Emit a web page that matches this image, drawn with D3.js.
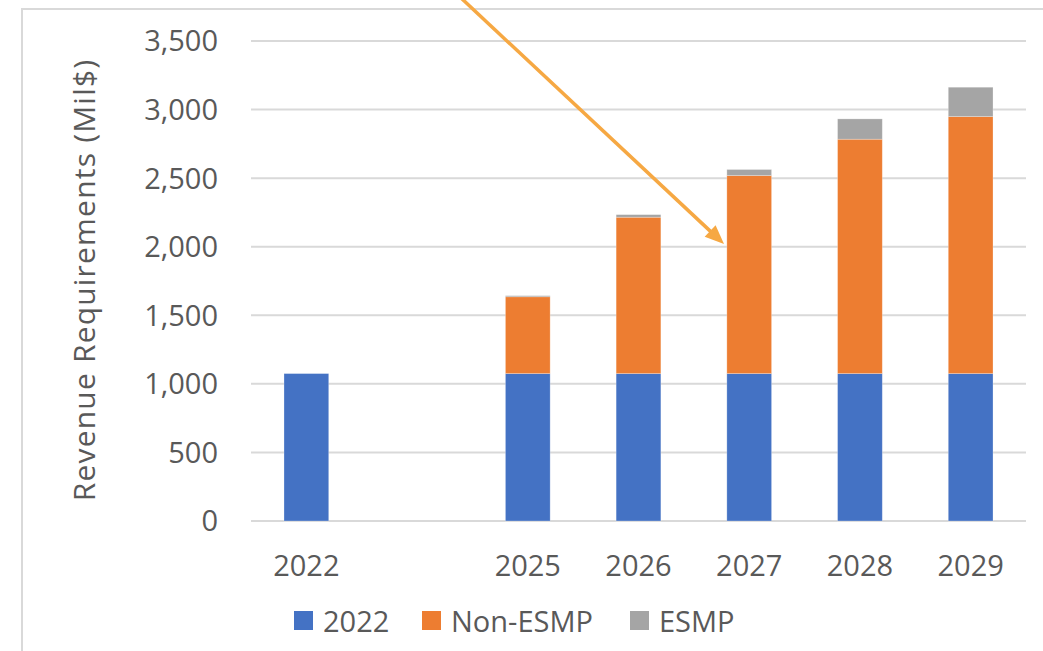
<!DOCTYPE html>
<html>
<head>
<meta charset="utf-8">
<script src="https://cdn.jsdelivr.net/npm/d3@7"></script>
<style>
  html, body { margin: 0; padding: 0; background: #fff; }
  svg { display: block; }
  text { font-family: "Open Sans", "Noto Sans", sans-serif; fill: #595959; }
</style>
</head>
<body>
<svg id="chart" width="1043" height="651"></svg>
<script>
// Revenue requirement build-up by year (Mil$)
const categories = ["2022", "", "2025", "2026", "2027", "2028", "2029"];
const base2022   = [1075, null, 1075, 1075, 1075, 1075, 1075];
const nonEsmp    = [null, null, 560, 1140, 1444, 1709, 1874];
const esmp       = [null, null, 8, 19, 44, 148, 214];
const yTicks     = [0, 500, 1000, 1500, 2000, 2500, 3000, 3500];
const seriesNames  = ["2022", "Non-ESMP", "ESMP"];
const seriesColors = ["#4472C4", "#ED7D31", "#A5A5A5"];

const svg = d3.select("#chart");

// outer chart frame (top and left edges visible)
svg.append("line").attr("x1", 21).attr("x2", 1043).attr("y1", 9).attr("y2", 9)
  .attr("stroke", "#d9d9d9").attr("stroke-width", 2);
svg.append("line").attr("x1", 22).attr("x2", 22).attr("y1", 9).attr("y2", 651)
  .attr("stroke", "#d9d9d9").attr("stroke-width", 2);

const plot = { left: 251, right: 1026, top: 41, bottom: 521 };

const x = d3.scaleBand()
  .domain(d3.range(categories.length))
  .range([plot.left, plot.right])
  .paddingInner(0.596)
  .paddingOuter(0.298);

const y = d3.scaleLinear().domain([0, 3500]).range([plot.bottom, plot.top]);

// horizontal gridlines
svg.append("g").selectAll("line").data(yTicks).join("line")
  .attr("x1", plot.left).attr("x2", plot.right)
  .attr("y1", d => y(d)).attr("y2", d => y(d))
  .attr("stroke", "#d9d9d9").attr("stroke-width", 2);

// y axis tick labels
const yAxis = d3.axisLeft(y).tickValues(yTicks).tickFormat(d3.format(",")).tickSize(0).tickPadding(0);
const gy = svg.append("g").attr("transform", "translate(218,0)").call(yAxis);
gy.select(".domain").remove();
gy.selectAll("text").attr("font-size", 29).attr("fill", "#595959")
  .attr("font-family", "Open Sans").attr("dy", "0.34em");

// x axis labels
const xAxis = d3.axisBottom(x).tickFormat(i => categories[i]).tickSize(0).tickPadding(0);
const gx = svg.append("g").attr("transform", "translate(0,576)").call(xAxis);
gx.select(".domain").remove();
gx.selectAll("text").attr("font-size", 29).attr("fill", "#595959")
  .attr("font-family", "Open Sans").attr("dy", 0);

// stacked bars
const rows = categories.map((c, i) => ({ i, a: base2022[i] || 0, b: nonEsmp[i] || 0, c: esmp[i] || 0 }));
const stack = d3.stack().keys(["a", "b", "c"])(rows);
svg.append("g").selectAll("g").data(stack).join("g")
  .attr("fill", (d, k) => seriesColors[k])
  .selectAll("rect").data(d => d.filter(p => p[1] > p[0])).join("rect")
  .attr("x", p => x(p.data.i))
  .attr("width", x.bandwidth())
  .attr("y", p => y(p[1]))
  .attr("height", p => y(p[0]) - y(p[1]))
  .attr("stroke", "#ffffff").attr("stroke-opacity", 0.35).attr("stroke-width", 0.75);

// y axis title
svg.append("text")
  .attr("transform", "translate(95,280) rotate(-90)")
  .attr("text-anchor", "middle")
  .attr("font-size", 30)
  .attr("letter-spacing", 1.2)
  .text("Revenue Requirements (Mil$)");

// legend
const legendItems = [
  { name: seriesNames[0], color: seriesColors[0], x: 294 },
  { name: seriesNames[1], color: seriesColors[1], x: 422 },
  { name: seriesNames[2], color: seriesColors[2], x: 630 }
];
const lg = svg.append("g").selectAll("g").data(legendItems).join("g")
  .attr("transform", d => `translate(${d.x},611)`);
lg.append("rect").attr("width", 19).attr("height", 19).attr("fill", d => d.color);
lg.append("text").attr("x", 29).attr("y", 20.5).attr("font-size", 29).text(d => d.name);

// callout arrow pointing at the 2027 stack
const arrowColor = "#F6A843";
const tail = [460, -3], tip = [724, 244];
const ang = Math.atan2(tip[1] - tail[1], tip[0] - tail[0]);
const headLen = 19, headHalf = 8;
const back = [tip[0] - headLen * Math.cos(ang), tip[1] - headLen * Math.sin(ang)];
svg.append("line")
  .attr("x1", tail[0]).attr("y1", tail[1])
  .attr("x2", back[0] + 2 * Math.cos(ang)).attr("y2", back[1] + 2 * Math.sin(ang))
  .attr("stroke", arrowColor).attr("stroke-width", 3.5);
const perp = ang + Math.PI / 2;
svg.append("path")
  .attr("d", d3.line()([
    tip,
    [back[0] + headHalf * Math.cos(perp), back[1] + headHalf * Math.sin(perp)],
    [back[0] - headHalf * Math.cos(perp), back[1] - headHalf * Math.sin(perp)]
  ]) + "Z")
  .attr("fill", arrowColor);
</script>
</body>
</html>
